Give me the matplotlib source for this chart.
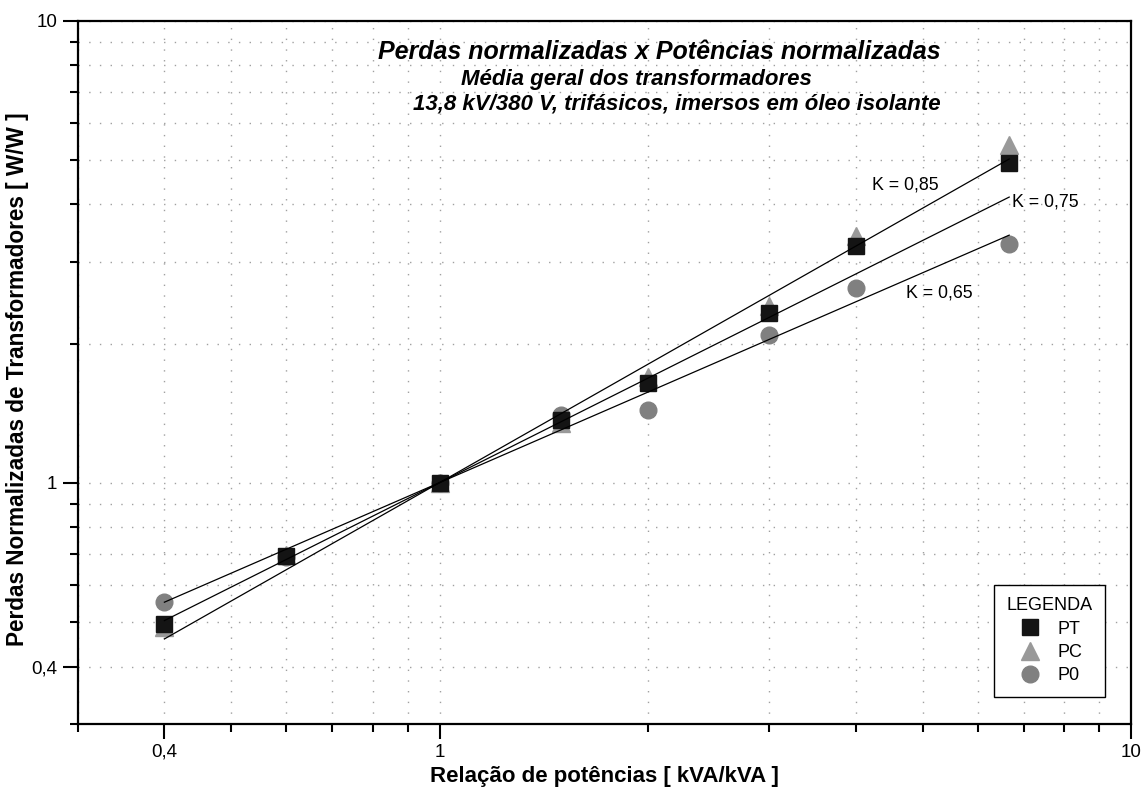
import numpy as np
import matplotlib
matplotlib.use("Agg")
import matplotlib.pyplot as plt
from matplotlib.ticker import FixedLocator, LogLocator, NullFormatter, FuncFormatter
from matplotlib.lines import Line2D

plt.rcParams['font.family'] = ['Liberation Sans', 'DejaVu Sans']

# data
ratio = [0.4, 0.6, 1.0, 1.5, 2.0, 3.0, 4.0, 6.667]
PT = [0.494, 0.694, 1.0, 1.365, 1.64, 2.325, 3.256, 4.91]
PC = [0.488, 0.697, 1.0, 1.345, 1.69, 2.41, 3.42, 5.38]
P0 = [0.553, 0.692, 1.0, 1.40, 1.436, 2.087, 2.64, 3.28]
K_values = [0.85, 0.75, 0.65]
K_labels = ["K = 0,85", "K = 0,75", "K = 0,65"]
K_label_pos = [(4.22, 4.40), (6.73, 4.05), (4.73, 2.57)]

fig = plt.figure(figsize=(11.47, 7.89), dpi=100)
ax = fig.add_axes([0.068, 0.082, 0.918, 0.892])
ax.set_xscale('log')
ax.set_yscale('log')
ax.set_xlim(0.3, 10)
ax.set_ylim(0.3, 10)

ax.plot(ratio, PC, linestyle='none', marker='^', ms=13, color='#999999', mec='#999999', zorder=3)
ax.plot(ratio, P0, linestyle='none', marker='o', ms=12, color='#808080', mec='#808080', zorder=3)
ax.plot(ratio, PT, linestyle='none', marker='s', ms=11.5, color='#141414', mec='#141414', zorder=4)

xr = np.array([ratio[0], ratio[-1]])
for k in K_values:
    ax.plot(xr, xr ** k, color='black', lw=0.9, zorder=5)
for lab, (tx, ty) in zip(K_labels, K_label_pos):
    ax.text(tx, ty, lab, fontsize=12.8, va='center', ha='left', zorder=6)

fmt = FuncFormatter(lambda v, p: ('%g' % v).replace('.', ','))
for axis in (ax.xaxis, ax.yaxis):
    axis.set_major_locator(FixedLocator([0.4, 1, 10]))
    axis.set_minor_locator(LogLocator(base=10, subs=np.arange(2, 10)))
    axis.set_major_formatter(fmt)
    axis.set_minor_formatter(NullFormatter())

ax.tick_params(which='major', length=11, width=1.5, labelsize=13.5, direction='out')
ax.tick_params(which='minor', length=6, width=1.5, direction='out')
ax.tick_params(axis='x', which='major', pad=3)
ax.tick_params(axis='y', which='major', pad=4)
for s in ax.spines.values():
    s.set_linewidth(1.6)

ax.grid(True, which='both', color='#a0a0a0', linestyle=(0, (1, 6.7)), linewidth=1)
ax.set_axisbelow(True)

ax.set_xlabel('Relação de potências [ kVA/kVA ]', fontsize=16, fontweight='bold')
ax.set_ylabel('Perdas Normalizadas de Transformadores [ W/W ]', fontsize=16.3, fontweight='bold')
ax.xaxis.set_label_coords(0.5, -0.059)
ax.yaxis.set_label_coords(-0.047, 0.49)

ax.text(0.552, 0.955, 'Perdas normalizadas x Potências normalizadas', transform=ax.transAxes,
        fontsize=18, fontweight='bold', style='italic', ha='center', va='center')
ax.text(0.53, 0.916, 'Média geral dos transformadores', transform=ax.transAxes,
        fontsize=16, fontweight='bold', style='italic', ha='center', va='center')
ax.text(0.569, 0.881, '13,8 kV/380 V, trifásicos, imersos em óleo isolante', transform=ax.transAxes,
        fontsize=16, fontweight='bold', style='italic', ha='center', va='center')

handles = [
    Line2D([], [], linestyle='none', marker='s', ms=11, color='#141414'),
    Line2D([], [], linestyle='none', marker='^', ms=13, color='#999999'),
    Line2D([], [], linestyle='none', marker='o', ms=12, color='#808080'),
]
leg = ax.legend(handles, ['PT', 'PC', 'P0'], title='LEGENDA', loc='lower right',
                bbox_to_anchor=(0.9753, 0.0388), borderaxespad=0, fontsize=13, title_fontsize=13,
                fancybox=False, edgecolor='black', framealpha=1, borderpad=0.7,
                handletextpad=0.8, labelspacing=0.35, handlelength=1.5)
leg.get_frame().set_linewidth(1.0)

fig.savefig('out.png', dpi=100)
